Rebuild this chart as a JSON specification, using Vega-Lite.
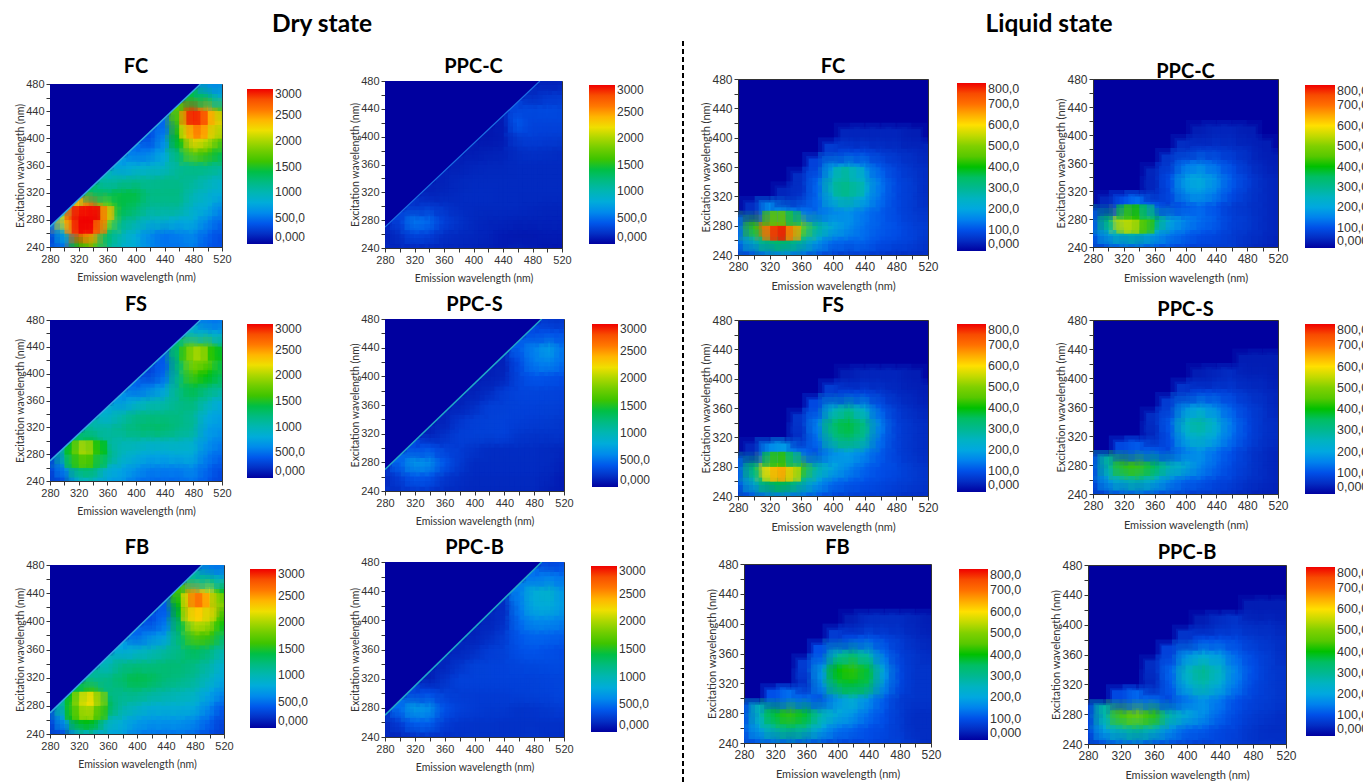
{"$schema":"https://vega.github.io/schema/vega-lite/v6.json","background":"white","padding":{"left":15,"top":12,"right":0,"bottom":0},
"config":{"view":{"stroke":"#333"},"range":{"ramp":["#00009f","#0050e8","#00a8e0","#00b890","#00c000","#80d000","#ffe000","#ff7000","#f00000"]},"axis":{"grid":false,"labelFlush":false,"labelFont":"Liberation Sans","labelFontSize":11,"labelColor":"#333","titleFont":"Lato","titleFontWeight":"normal","titleFontSize":10.5,"titleColor":"#333","domainColor":"#333","tickColor":"#333","tickSize":4},"axisX":{"titlePadding":8},"axisY":{"titlePadding":0},"title":{"font":"Lato","fontWeight":"bold","fontSize":20,"color":"black"},"legend":{"gradientStrokeWidth":0,"labelOffset":8,"labelFont":"Liberation Sans","labelColor":"#333","labelOverlap":false}},
"bounds":"flush","spacing":688,"resolve":{"scale":{"color":"independent"},"legend":{"color":"independent"}},"hconcat":[
{"bounds":"flush","spacing":633,"resolve":{"scale":{"color":"independent"},"legend":{"color":"independent"}},"hconcat":[
{"bounds":"flush","spacing":335,"resolve":{"scale":{"color":"independent"},"legend":{"color":"independent"}},"hconcat":[
{"bounds":"flush","spacing":524,"resolve":{"scale":{"color":"independent"},"legend":{"color":"independent"}},"vconcat":[
{"bounds":"flush","spacing":279,"resolve":{"scale":{"color":"independent"},"legend":{"color":"independent"}},"vconcat":[
{"bounds":"flush","spacing":42,"resolve":{"scale":{"color":"independent"},"legend":{"color":"independent"}},"vconcat":[
{"width":544,"height":1,"view":{"stroke":null},"title":{"text":"Dry state","fontSize":24.5,"offset":3},"data":{"values":[{"a":0}]},"mark":{"type":"rule","opacity":0},"encoding":{}},
{"width":172,"height":163,"view":{"fill":"#00009f"},"title":{"text":"FC","offset":1},
"encoding":{"x":{"field":"x","type":"quantitative","scale":{"domain":[280,520],"nice":false},"axis":{"values":[280,300,320,340,360,380,400,420,440,460,480,500,520],"labelExpr":"datum.value%40==0?datum.label:''","title":"Emission wavelength (nm)"}},"y":{"field":"y","type":"quantitative","scale":{"domain":[240,480],"nice":false},"axis":{"values":[240,260,280,300,320,340,360,380,400,420,440,460,480],"labelExpr":"datum.value%40==0?datum.label:''","title":"Excitation wavelength (nm)"}},"color":{"field":"v","type":"quantitative","scale":{"domain":[0,3000]},"legend":{"orient":"none","legendX":197,"legendY":5,"title":null,"gradientLength":155,"gradientThickness":26,"values":[0,500,1000,1500,2000,2500,3000],"labelExpr":"datum.value==0?'0,000':datum.value==500?'500,0':format(datum.value,'d')","labelFontSize":12,"encoding":{"labels":{"update":{"baseline":{"value":"middle"}}}}}}},
"data":{"values":[{"x":280,"y":240,"v":300},{"x":300,"y":240,"v":500},{"x":320,"y":240,"v":1500},{"x":340,"y":240,"v":1700},{"x":360,"y":240,"v":1200},{"x":380,"y":240,"v":900},{"x":400,"y":240,"v":800},{"x":420,"y":240,"v":600},{"x":440,"y":240,"v":500},{"x":460,"y":240,"v":500},{"x":480,"y":240,"v":550},{"x":500,"y":240,"v":400},{"x":520,"y":240,"v":350},
{"x":280,"y":260,"v":300},{"x":300,"y":260,"v":800},{"x":320,"y":260,"v":2800},{"x":340,"y":260,"v":2500},{"x":360,"y":260,"v":1300},{"x":380,"y":260,"v":1000},{"x":400,"y":260,"v":800},{"x":420,"y":260,"v":600},{"x":440,"y":260,"v":500},{"x":460,"y":260,"v":550},{"x":480,"y":260,"v":600},{"x":500,"y":260,"v":450},{"x":520,"y":260,"v":350},
{"x":280,"y":280,"v":500},{"x":300,"y":280,"v":2200},{"x":320,"y":280,"v":3000},{"x":340,"y":280,"v":3000},{"x":360,"y":280,"v":2000},{"x":380,"y":280,"v":1200},{"x":400,"y":280,"v":1050},{"x":420,"y":280,"v":900},{"x":440,"y":280,"v":900},{"x":460,"y":280,"v":800},{"x":480,"y":280,"v":800},{"x":500,"y":280,"v":600},{"x":520,"y":280,"v":450},
{"x":300,"y":300,"v":1000},{"x":320,"y":300,"v":2400},{"x":340,"y":300,"v":2700},{"x":360,"y":300,"v":1900},{"x":380,"y":300,"v":1400},{"x":400,"y":300,"v":1300},{"x":420,"y":300,"v":1100},{"x":440,"y":300,"v":1100},{"x":460,"y":300,"v":1100},{"x":480,"y":300,"v":900},{"x":500,"y":300,"v":800},{"x":520,"y":300,"v":600},
{"x":340,"y":320,"v":1300},{"x":360,"y":320,"v":1300},{"x":380,"y":320,"v":1400},{"x":400,"y":320,"v":1400},{"x":420,"y":320,"v":1200},{"x":440,"y":320,"v":1200},{"x":460,"y":320,"v":1200},{"x":480,"y":320,"v":1000},{"x":500,"y":320,"v":900},{"x":520,"y":320,"v":800},
{"x":360,"y":340,"v":1000},{"x":380,"y":340,"v":1050},{"x":400,"y":340,"v":1100},{"x":420,"y":340,"v":1100},{"x":440,"y":340,"v":1150},{"x":460,"y":340,"v":1150},{"x":480,"y":340,"v":1100},{"x":500,"y":340,"v":1000},{"x":520,"y":340,"v":900},
{"x":380,"y":360,"v":700},{"x":400,"y":360,"v":800},{"x":420,"y":360,"v":850},{"x":440,"y":360,"v":900},{"x":460,"y":360,"v":1100},{"x":480,"y":360,"v":1200},{"x":500,"y":360,"v":1200},{"x":520,"y":360,"v":1100},
{"x":400,"y":380,"v":500},{"x":420,"y":380,"v":550},{"x":440,"y":380,"v":750},{"x":460,"y":380,"v":1300},{"x":480,"y":380,"v":1800},{"x":500,"y":380,"v":1600},{"x":520,"y":380,"v":1400},
{"x":420,"y":400,"v":350},{"x":440,"y":400,"v":600},{"x":460,"y":400,"v":1500},{"x":480,"y":400,"v":2300},{"x":500,"y":400,"v":2100},{"x":520,"y":400,"v":1700},
{"x":440,"y":420,"v":450},{"x":460,"y":420,"v":1600},{"x":480,"y":420,"v":2700},{"x":500,"y":420,"v":2600},{"x":520,"y":420,"v":2000},
{"x":460,"y":440,"v":1700},{"x":480,"y":440,"v":2900},{"x":500,"y":440,"v":2500},{"x":520,"y":440,"v":1700},
{"x":480,"y":460,"v":1400},{"x":500,"y":460,"v":1300},{"x":520,"y":460,"v":900},
{"x":500,"y":480,"v":600},{"x":520,"y":480,"v":600}]},
"layer":[{"mark":{"type":"square","size":256,"clip":true,"opacity":1}},{"mark":{"type":"square","size":784,"clip":true,"opacity":0.3}},{"mark":{"type":"square","size":400,"clip":true,"opacity":0.4}},
{"data":{"values":[{"x":310,"y":270,"v":2500},{"x":320,"y":270,"v":3000},{"x":330,"y":270,"v":3000},{"x":340,"y":270,"v":3000},{"x":350,"y":270,"v":2600},
{"x":310,"y":290,"v":2800},{"x":320,"y":290,"v":3000},{"x":330,"y":290,"v":3000},{"x":340,"y":290,"v":3000},{"x":350,"y":290,"v":3000},{"x":360,"y":290,"v":2400},
{"x":470,"y":410,"v":2200},{"x":480,"y":410,"v":2500},{"x":490,"y":410,"v":2600},{"x":500,"y":410,"v":2400},{"x":510,"y":410,"v":2100},
{"x":470,"y":430,"v":2500},{"x":480,"y":430,"v":3000},{"x":490,"y":430,"v":2900},{"x":500,"y":430,"v":2700},{"x":510,"y":430,"v":2300}]},"mark":{"type":"square","size":196,"clip":true,"opacity":0.6}},
{"data":{"values":[{"x":280,"y":270},{"x":490,"y":480}]},"mark":{"type":"area","clip":true},"encoding":{"y2":{"datum":480},"color":{"value":"#00009f"}}},
{"data":{"values":[{"x":280,"y":270},{"x":490,"y":480}]},"mark":{"type":"line","strokeWidth":1.5,"clip":true},"encoding":{"color":{"value":"#30a8e0"}}}]}
]},
{"width":172,"height":161,"view":{"fill":"#00009f"},"title":{"text":"FS","offset":-1},
"encoding":{"x":{"field":"x","type":"quantitative","scale":{"domain":[280,520],"nice":false},"axis":{"values":[280,300,320,340,360,380,400,420,440,460,480,500,520],"labelExpr":"datum.value%40==0?datum.label:''","title":"Emission wavelength (nm)"}},"y":{"field":"y","type":"quantitative","scale":{"domain":[240,480],"nice":false},"axis":{"values":[240,260,280,300,320,340,360,380,400,420,440,460,480],"labelExpr":"datum.value%40==0?datum.label:''","title":"Excitation wavelength (nm)"}},"color":{"field":"v","type":"quantitative","scale":{"domain":[0,3000]},"legend":{"orient":"none","legendX":197,"legendY":4,"title":null,"gradientLength":154,"gradientThickness":26,"values":[0,500,1000,1500,2000,2500,3000],"labelExpr":"datum.value==0?'0,000':datum.value==500?'500,0':format(datum.value,'d')","labelFontSize":12,"encoding":{"labels":{"update":{"baseline":{"value":"middle"}}}}}}},
"data":{"values":[{"x":280,"y":240,"v":200},{"x":300,"y":240,"v":350},{"x":320,"y":240,"v":800},{"x":340,"y":240,"v":900},{"x":360,"y":240,"v":700},{"x":380,"y":240,"v":650},{"x":400,"y":240,"v":500},{"x":420,"y":240,"v":450},{"x":440,"y":240,"v":450},{"x":460,"y":240,"v":450},{"x":480,"y":240,"v":500},{"x":500,"y":240,"v":400},{"x":520,"y":240,"v":300},
{"x":280,"y":260,"v":300},{"x":300,"y":260,"v":600},{"x":320,"y":260,"v":1300},{"x":340,"y":260,"v":1300},{"x":360,"y":260,"v":900},{"x":380,"y":260,"v":750},{"x":400,"y":260,"v":650},{"x":420,"y":260,"v":550},{"x":440,"y":260,"v":550},{"x":460,"y":260,"v":550},{"x":480,"y":260,"v":600},{"x":500,"y":260,"v":450},{"x":520,"y":260,"v":350},
{"x":280,"y":280,"v":300},{"x":300,"y":280,"v":1100},{"x":320,"y":280,"v":1800},{"x":340,"y":280,"v":1800},{"x":360,"y":280,"v":1300},{"x":380,"y":280,"v":950},{"x":400,"y":280,"v":850},{"x":420,"y":280,"v":750},{"x":440,"y":280,"v":750},{"x":460,"y":280,"v":800},{"x":480,"y":280,"v":800},{"x":500,"y":280,"v":550},{"x":520,"y":280,"v":450},
{"x":320,"y":300,"v":1300},{"x":340,"y":300,"v":1400},{"x":360,"y":300,"v":1100},{"x":380,"y":300,"v":1000},{"x":400,"y":300,"v":1000},{"x":420,"y":300,"v":950},{"x":440,"y":300,"v":950},{"x":460,"y":300,"v":950},{"x":480,"y":300,"v":900},{"x":500,"y":300,"v":650},{"x":520,"y":300,"v":550},
{"x":340,"y":320,"v":1050},{"x":360,"y":320,"v":1050},{"x":380,"y":320,"v":1150},{"x":400,"y":320,"v":1250},{"x":420,"y":320,"v":1300},{"x":440,"y":320,"v":1300},{"x":460,"y":320,"v":1200},{"x":480,"y":320,"v":1100},{"x":500,"y":320,"v":700},{"x":520,"y":320,"v":650},
{"x":360,"y":340,"v":850},{"x":380,"y":340,"v":1000},{"x":400,"y":340,"v":1150},{"x":420,"y":340,"v":1200},{"x":440,"y":340,"v":1200},{"x":460,"y":340,"v":1200},{"x":480,"y":340,"v":1100},{"x":500,"y":340,"v":800},{"x":520,"y":340,"v":700},
{"x":380,"y":360,"v":650},{"x":400,"y":360,"v":800},{"x":420,"y":360,"v":950},{"x":440,"y":360,"v":1000},{"x":460,"y":360,"v":1150},{"x":480,"y":360,"v":1250},{"x":500,"y":360,"v":1000},{"x":520,"y":360,"v":800},
{"x":400,"y":380,"v":450},{"x":420,"y":380,"v":550},{"x":440,"y":380,"v":700},{"x":460,"y":380,"v":1200},{"x":480,"y":380,"v":1400},{"x":500,"y":380,"v":1250},{"x":520,"y":380,"v":1100},
{"x":420,"y":400,"v":300},{"x":440,"y":400,"v":450},{"x":460,"y":400,"v":1200},{"x":480,"y":400,"v":1650},{"x":500,"y":400,"v":1500},{"x":520,"y":400,"v":1350},
{"x":440,"y":420,"v":400},{"x":460,"y":420,"v":1300},{"x":480,"y":420,"v":1900},{"x":500,"y":420,"v":1800},{"x":520,"y":420,"v":1400},
{"x":460,"y":440,"v":1300},{"x":480,"y":440,"v":1800},{"x":500,"y":440,"v":1700},{"x":520,"y":440,"v":1300},
{"x":480,"y":460,"v":900},{"x":500,"y":460,"v":900},{"x":520,"y":460,"v":800},
{"x":500,"y":480,"v":500},{"x":520,"y":480,"v":500}]},
"layer":[{"mark":{"type":"square","size":256,"clip":true,"opacity":1}},{"mark":{"type":"square","size":784,"clip":true,"opacity":0.3}},{"mark":{"type":"square","size":400,"clip":true,"opacity":0.4}},
{"data":{"values":[{"x":310,"y":270,"v":1400},{"x":320,"y":270,"v":1600},{"x":330,"y":270,"v":1700},{"x":340,"y":270,"v":1600},{"x":350,"y":270,"v":1350},
{"x":310,"y":290,"v":1500},{"x":320,"y":290,"v":1900},{"x":330,"y":290,"v":2050},{"x":340,"y":290,"v":1900},{"x":350,"y":290,"v":1500},
{"x":470,"y":430,"v":1600},{"x":480,"y":430,"v":1950},{"x":490,"y":430,"v":2000},{"x":500,"y":430,"v":1850},{"x":510,"y":430,"v":1500}]},"mark":{"type":"square","size":196,"clip":true,"opacity":0.6}},
{"data":{"values":[{"x":280,"y":270},{"x":490,"y":480}]},"mark":{"type":"area","clip":true},"encoding":{"y2":{"datum":480},"color":{"value":"#00009f"}}},
{"data":{"values":[{"x":280,"y":270},{"x":490,"y":480}]},"mark":{"type":"line","strokeWidth":1.5,"clip":true},"encoding":{"color":{"value":"#30a8e0"}}}]}
]},
{"width":174,"height":169,"view":{"fill":"#00009f"},"title":{"text":"FB","offset":1},
"encoding":{"x":{"field":"x","type":"quantitative","scale":{"domain":[280,520],"nice":false},"axis":{"values":[280,300,320,340,360,380,400,420,440,460,480,500,520],"labelExpr":"datum.value%40==0?datum.label:''","title":"Emission wavelength (nm)"}},"y":{"field":"y","type":"quantitative","scale":{"domain":[240,480],"nice":false},"axis":{"values":[240,260,280,300,320,340,360,380,400,420,440,460,480],"labelExpr":"datum.value%40==0?datum.label:''","title":"Excitation wavelength (nm)"}},"color":{"field":"v","type":"quantitative","scale":{"domain":[0,3000]},"legend":{"orient":"none","legendX":200,"legendY":4,"title":null,"gradientLength":159,"gradientThickness":26,"values":[0,500,1000,1500,2000,2500,3000],"labelExpr":"datum.value==0?'0,000':datum.value==500?'500,0':format(datum.value,'d')","labelFontSize":12,"encoding":{"labels":{"update":{"baseline":{"value":"middle"}}}}}}},
"data":{"values":[{"x":280,"y":240,"v":200},{"x":300,"y":240,"v":350},{"x":320,"y":240,"v":800},{"x":340,"y":240,"v":850},{"x":360,"y":240,"v":750},{"x":380,"y":240,"v":700},{"x":400,"y":240,"v":550},{"x":420,"y":240,"v":500},{"x":440,"y":240,"v":500},{"x":460,"y":240,"v":500},{"x":480,"y":240,"v":450},{"x":500,"y":240,"v":350},{"x":520,"y":240,"v":250},
{"x":280,"y":260,"v":300},{"x":300,"y":260,"v":700},{"x":320,"y":260,"v":1500},{"x":340,"y":260,"v":1500},{"x":360,"y":260,"v":1000},{"x":380,"y":260,"v":850},{"x":400,"y":260,"v":700},{"x":420,"y":260,"v":650},{"x":440,"y":260,"v":650},{"x":460,"y":260,"v":650},{"x":480,"y":260,"v":600},{"x":500,"y":260,"v":450},{"x":520,"y":260,"v":300},
{"x":300,"y":280,"v":1100},{"x":320,"y":280,"v":2000},{"x":340,"y":280,"v":2100},{"x":360,"y":280,"v":1400},{"x":380,"y":280,"v":1050},{"x":400,"y":280,"v":950},{"x":420,"y":280,"v":850},{"x":440,"y":280,"v":850},{"x":460,"y":280,"v":850},{"x":480,"y":280,"v":800},{"x":500,"y":280,"v":600},{"x":520,"y":280,"v":400},
{"x":320,"y":300,"v":1400},{"x":340,"y":300,"v":1600},{"x":360,"y":300,"v":1200},{"x":380,"y":300,"v":1150},{"x":400,"y":300,"v":1200},{"x":420,"y":300,"v":1100},{"x":440,"y":300,"v":1050},{"x":460,"y":300,"v":1000},{"x":480,"y":300,"v":950},{"x":500,"y":300,"v":750},{"x":520,"y":300,"v":600},
{"x":340,"y":320,"v":1100},{"x":360,"y":320,"v":1150},{"x":380,"y":320,"v":1300},{"x":400,"y":320,"v":1400},{"x":420,"y":320,"v":1350},{"x":440,"y":320,"v":1250},{"x":460,"y":320,"v":1200},{"x":480,"y":320,"v":1100},{"x":500,"y":320,"v":950},{"x":520,"y":320,"v":750},
{"x":360,"y":340,"v":950},{"x":380,"y":340,"v":1150},{"x":400,"y":340,"v":1200},{"x":420,"y":340,"v":1200},{"x":440,"y":340,"v":1250},{"x":460,"y":340,"v":1250},{"x":480,"y":340,"v":1200},{"x":500,"y":340,"v":1050},{"x":520,"y":340,"v":850},
{"x":380,"y":360,"v":750},{"x":400,"y":360,"v":850},{"x":420,"y":360,"v":950},{"x":440,"y":360,"v":1050},{"x":460,"y":360,"v":1200},{"x":480,"y":360,"v":1350},{"x":500,"y":360,"v":1250},{"x":520,"y":360,"v":1000},
{"x":400,"y":380,"v":450},{"x":420,"y":380,"v":600},{"x":440,"y":380,"v":700},{"x":460,"y":380,"v":1300},{"x":480,"y":380,"v":1700},{"x":500,"y":380,"v":1600},{"x":520,"y":380,"v":1300},
{"x":420,"y":400,"v":350},{"x":440,"y":400,"v":500},{"x":460,"y":400,"v":1400},{"x":480,"y":400,"v":2100},{"x":500,"y":400,"v":2000},{"x":520,"y":400,"v":1500},
{"x":440,"y":420,"v":400},{"x":460,"y":420,"v":1500},{"x":480,"y":420,"v":2500},{"x":500,"y":420,"v":2400},{"x":520,"y":420,"v":1700},
{"x":460,"y":440,"v":1600},{"x":480,"y":440,"v":2500},{"x":500,"y":440,"v":2200},{"x":520,"y":440,"v":1500},
{"x":480,"y":460,"v":1100},{"x":500,"y":460,"v":1100},{"x":520,"y":460,"v":900},
{"x":500,"y":480,"v":500},{"x":520,"y":480,"v":500}]},
"layer":[{"mark":{"type":"square","size":256,"clip":true,"opacity":1}},{"mark":{"type":"square","size":784,"clip":true,"opacity":0.3}},{"mark":{"type":"square","size":400,"clip":true,"opacity":0.4}},
{"data":{"values":[{"x":310,"y":270,"v":1500},{"x":320,"y":270,"v":1800},{"x":330,"y":270,"v":2000},{"x":340,"y":270,"v":1950},{"x":350,"y":270,"v":1600},
{"x":310,"y":290,"v":1500},{"x":320,"y":290,"v":2000},{"x":330,"y":290,"v":2200},{"x":340,"y":290,"v":2250},{"x":350,"y":290,"v":1900},
{"x":470,"y":410,"v":2100},{"x":480,"y":410,"v":2300},{"x":490,"y":410,"v":2300},{"x":500,"y":410,"v":2100},
{"x":470,"y":430,"v":2200},{"x":480,"y":430,"v":2650},{"x":490,"y":430,"v":2650},{"x":500,"y":430,"v":2400},{"x":510,"y":430,"v":1950}]},"mark":{"type":"square","size":196,"clip":true,"opacity":0.6}},
{"data":{"values":[{"x":280,"y":270},{"x":490,"y":480}]},"mark":{"type":"area","clip":true},"encoding":{"y2":{"datum":480},"color":{"value":"#00009f"}}},
{"data":{"values":[{"x":280,"y":270},{"x":490,"y":480}]},"mark":{"type":"line","strokeWidth":1.5,"clip":true},"encoding":{"color":{"value":"#30a8e0"}}}]}
]},
{"bounds":"flush","spacing":521,"resolve":{"scale":{"color":"independent"},"legend":{"color":"independent"}},"vconcat":[
{"bounds":"flush","spacing":278,"resolve":{"scale":{"color":"independent"},"legend":{"color":"independent"}},"vconcat":[
{"bounds":"flush","spacing":39,"resolve":{"scale":{"color":"independent"},"legend":{"color":"independent"}},"vconcat":[
{"width":1,"height":1,"view":{"stroke":null},"data":{"values":[{"a":0}]},"mark":{"type":"rule","opacity":0},"encoding":{}},
{"width":177,"height":167,"view":{"fill":"#00009f"},"title":{"text":"PPC-C","offset":-2},
"encoding":{"x":{"field":"x","type":"quantitative","scale":{"domain":[280,520],"nice":false},"axis":{"values":[280,300,320,340,360,380,400,420,440,460,480,500,520],"labelExpr":"datum.value%40==0?datum.label:''","title":"Emission wavelength (nm)"}},"y":{"field":"y","type":"quantitative","scale":{"domain":[240,480],"nice":false},"axis":{"values":[240,260,280,300,320,340,360,380,400,420,440,460,480],"labelExpr":"datum.value%40==0?datum.label:''","title":"Excitation wavelength (nm)"}},"color":{"field":"v","type":"quantitative","scale":{"domain":[0,3000]},"legend":{"orient":"none","legendX":204,"legendY":4,"title":null,"gradientLength":159,"gradientThickness":26,"values":[0,500,1000,1500,2000,2500,3000],"labelExpr":"datum.value==0?'0,000':datum.value==500?'500,0':format(datum.value,'d')","labelFontSize":12,"encoding":{"labels":{"update":{"baseline":{"value":"middle"}}}}}}},
"data":{"values":[{"x":280,"y":240,"v":150},{"x":300,"y":240,"v":150},{"x":320,"y":240,"v":150},{"x":340,"y":240,"v":150},{"x":360,"y":240,"v":150},{"x":380,"y":240,"v":150},{"x":400,"y":240,"v":130},{"x":420,"y":240,"v":120},{"x":440,"y":240,"v":100},{"x":460,"y":240,"v":120},{"x":480,"y":240,"v":100},{"x":500,"y":240,"v":80},{"x":520,"y":240,"v":80},
{"x":280,"y":260,"v":100},{"x":300,"y":260,"v":200},{"x":320,"y":260,"v":330},{"x":340,"y":260,"v":300},{"x":360,"y":260,"v":200},{"x":380,"y":260,"v":170},{"x":400,"y":260,"v":160},{"x":420,"y":260,"v":140},{"x":440,"y":260,"v":100},{"x":460,"y":260,"v":90},{"x":480,"y":260,"v":90},{"x":500,"y":260,"v":100},{"x":520,"y":260,"v":100},
{"x":300,"y":280,"v":300},{"x":320,"y":280,"v":520},{"x":340,"y":280,"v":470},{"x":360,"y":280,"v":300},{"x":380,"y":280,"v":220},{"x":400,"y":280,"v":170},{"x":420,"y":280,"v":150},{"x":440,"y":280,"v":150},{"x":460,"y":280,"v":130},{"x":480,"y":280,"v":130},{"x":500,"y":280,"v":130},{"x":520,"y":280,"v":130},
{"x":320,"y":300,"v":230},{"x":340,"y":300,"v":260},{"x":360,"y":300,"v":220},{"x":380,"y":300,"v":180},{"x":400,"y":300,"v":170},{"x":420,"y":300,"v":170},{"x":440,"y":300,"v":170},{"x":460,"y":300,"v":170},{"x":480,"y":300,"v":160},{"x":500,"y":300,"v":150},{"x":520,"y":300,"v":150},
{"x":340,"y":320,"v":130},{"x":360,"y":320,"v":150},{"x":380,"y":320,"v":170},{"x":400,"y":320,"v":180},{"x":420,"y":320,"v":180},{"x":440,"y":320,"v":170},{"x":460,"y":320,"v":170},{"x":480,"y":320,"v":170},{"x":500,"y":320,"v":170},{"x":520,"y":320,"v":170},
{"x":360,"y":340,"v":130},{"x":380,"y":340,"v":160},{"x":400,"y":340,"v":170},{"x":420,"y":340,"v":170},{"x":440,"y":340,"v":170},{"x":460,"y":340,"v":170},{"x":480,"y":340,"v":170},{"x":500,"y":340,"v":170},{"x":520,"y":340,"v":170},
{"x":380,"y":360,"v":120},{"x":400,"y":360,"v":150},{"x":420,"y":360,"v":160},{"x":440,"y":360,"v":160},{"x":460,"y":360,"v":170},{"x":480,"y":360,"v":170},{"x":500,"y":360,"v":170},{"x":520,"y":360,"v":170},
{"x":400,"y":380,"v":100},{"x":420,"y":380,"v":120},{"x":440,"y":380,"v":130},{"x":460,"y":380,"v":190},{"x":480,"y":380,"v":210},{"x":500,"y":380,"v":200},{"x":520,"y":380,"v":190},
{"x":420,"y":400,"v":80},{"x":440,"y":400,"v":100},{"x":460,"y":400,"v":260},{"x":480,"y":400,"v":280},{"x":500,"y":400,"v":270},{"x":520,"y":400,"v":260},
{"x":440,"y":420,"v":100},{"x":460,"y":420,"v":400},{"x":480,"y":420,"v":310},{"x":500,"y":420,"v":310},{"x":520,"y":420,"v":310},
{"x":460,"y":440,"v":320},{"x":480,"y":440,"v":330},{"x":500,"y":440,"v":340},{"x":520,"y":440,"v":330},
{"x":480,"y":460,"v":170},{"x":500,"y":460,"v":230},{"x":520,"y":460,"v":250},
{"x":500,"y":480,"v":120},{"x":520,"y":480,"v":130}]},
"layer":[{"mark":{"type":"square","size":256,"clip":true,"opacity":1}},{"mark":{"type":"square","size":784,"clip":true,"opacity":0.3}},{"mark":{"type":"square","size":400,"clip":true,"opacity":0.4}},
{"data":{"values":[{"x":490,"y":480},{"x":280,"y":270}]},"mark":{"type":"area","clip":true},"encoding":{"y2":{"datum":480},"color":{"value":"#00009f"}}},
{"data":{"values":[{"x":280,"y":270},{"x":490,"y":480}]},"mark":{"type":"line","strokeWidth":1.2,"clip":true},"encoding":{"color":{"value":"#1c70e4"}}}]}
]},
{"width":179,"height":172,"view":{"fill":"#00009f"},"title":{"text":"PPC-S","offset":-2},
"encoding":{"x":{"field":"x","type":"quantitative","scale":{"domain":[280,520],"nice":false},"axis":{"values":[280,300,320,340,360,380,400,420,440,460,480,500,520],"labelExpr":"datum.value%40==0?datum.label:''","title":"Emission wavelength (nm)"}},"y":{"field":"y","type":"quantitative","scale":{"domain":[240,480],"nice":false},"axis":{"values":[240,260,280,300,320,340,360,380,400,420,440,460,480],"labelExpr":"datum.value%40==0?datum.label:''","title":"Excitation wavelength (nm)"}},"color":{"field":"v","type":"quantitative","scale":{"domain":[0,3000]},"legend":{"orient":"none","legendX":207,"legendY":5,"title":null,"gradientLength":163,"gradientThickness":26,"values":[0,500,1000,1500,2000,2500,3000],"labelExpr":"datum.value==0?'0,000':datum.value==500?'500,0':format(datum.value,'d')","labelFontSize":12,"encoding":{"labels":{"update":{"baseline":{"value":"middle"}}}}}}},
"data":{"values":[{"x":280,"y":240,"v":200},{"x":300,"y":240,"v":200},{"x":320,"y":240,"v":230},{"x":340,"y":240,"v":230},{"x":360,"y":240,"v":180},{"x":380,"y":240,"v":170},{"x":400,"y":240,"v":160},{"x":420,"y":240,"v":160},{"x":440,"y":240,"v":160},{"x":460,"y":240,"v":160},{"x":480,"y":240,"v":160},{"x":500,"y":240,"v":120},{"x":520,"y":240,"v":100},
{"x":280,"y":260,"v":150},{"x":300,"y":260,"v":280},{"x":320,"y":260,"v":400},{"x":340,"y":260,"v":380},{"x":360,"y":260,"v":250},{"x":380,"y":260,"v":200},{"x":400,"y":260,"v":170},{"x":420,"y":260,"v":170},{"x":440,"y":260,"v":170},{"x":460,"y":260,"v":170},{"x":480,"y":260,"v":170},{"x":500,"y":260,"v":150},{"x":520,"y":260,"v":100},
{"x":300,"y":280,"v":450},{"x":320,"y":280,"v":650},{"x":340,"y":280,"v":620},{"x":360,"y":280,"v":400},{"x":380,"y":280,"v":260},{"x":400,"y":280,"v":180},{"x":420,"y":280,"v":180},{"x":440,"y":280,"v":180},{"x":460,"y":280,"v":180},{"x":480,"y":280,"v":180},{"x":500,"y":280,"v":170},{"x":520,"y":280,"v":130},
{"x":320,"y":300,"v":350},{"x":340,"y":300,"v":380},{"x":360,"y":300,"v":300},{"x":380,"y":300,"v":270},{"x":400,"y":300,"v":220},{"x":420,"y":300,"v":190},{"x":440,"y":300,"v":190},{"x":460,"y":300,"v":190},{"x":480,"y":300,"v":190},{"x":500,"y":300,"v":170},{"x":520,"y":300,"v":160},
{"x":340,"y":320,"v":130},{"x":360,"y":320,"v":200},{"x":380,"y":320,"v":280},{"x":400,"y":320,"v":290},{"x":420,"y":320,"v":290},{"x":440,"y":320,"v":300},{"x":460,"y":320,"v":240},{"x":480,"y":320,"v":220},{"x":500,"y":320,"v":220},{"x":520,"y":320,"v":220},
{"x":360,"y":340,"v":130},{"x":380,"y":340,"v":230},{"x":400,"y":340,"v":280},{"x":420,"y":340,"v":290},{"x":440,"y":340,"v":300},{"x":460,"y":340,"v":280},{"x":480,"y":340,"v":270},{"x":500,"y":340,"v":260},{"x":520,"y":340,"v":240},
{"x":380,"y":360,"v":130},{"x":400,"y":360,"v":190},{"x":420,"y":360,"v":280},{"x":440,"y":360,"v":290},{"x":460,"y":360,"v":300},{"x":480,"y":360,"v":300},{"x":500,"y":360,"v":290},{"x":520,"y":360,"v":280},
{"x":400,"y":380,"v":120},{"x":420,"y":380,"v":170},{"x":440,"y":380,"v":270},{"x":460,"y":380,"v":310},{"x":480,"y":380,"v":320},{"x":500,"y":380,"v":310},{"x":520,"y":380,"v":300},
{"x":420,"y":400,"v":120},{"x":440,"y":400,"v":150},{"x":460,"y":400,"v":320},{"x":480,"y":400,"v":390},{"x":500,"y":400,"v":380},{"x":520,"y":400,"v":360},
{"x":440,"y":420,"v":130},{"x":460,"y":420,"v":350},{"x":480,"y":420,"v":530},{"x":500,"y":420,"v":580},{"x":520,"y":420,"v":480},
{"x":460,"y":440,"v":420},{"x":480,"y":440,"v":560},{"x":500,"y":440,"v":680},{"x":520,"y":440,"v":500},
{"x":480,"y":460,"v":350},{"x":500,"y":460,"v":380},{"x":520,"y":460,"v":370},
{"x":500,"y":480,"v":220},{"x":520,"y":480,"v":220}]},
"layer":[{"mark":{"type":"square","size":256,"clip":true,"opacity":1}},{"mark":{"type":"square","size":784,"clip":true,"opacity":0.3}},{"mark":{"type":"square","size":400,"clip":true,"opacity":0.4}},
{"data":{"values":[{"x":280,"y":270},{"x":490,"y":480}]},"mark":{"type":"area","clip":true},"encoding":{"y2":{"datum":480},"color":{"value":"#00009f"}}},
{"data":{"values":[{"x":280,"y":270},{"x":490,"y":480}]},"mark":{"type":"line","strokeWidth":1.5,"clip":true},"encoding":{"color":{"value":"#20a8c8"}}}]}
]},
{"width":179,"height":175,"view":{"fill":"#00009f"},"title":{"text":"PPC-B","offset":-2},
"encoding":{"x":{"field":"x","type":"quantitative","scale":{"domain":[280,520],"nice":false},"axis":{"values":[280,300,320,340,360,380,400,420,440,460,480,500,520],"labelExpr":"datum.value%40==0?datum.label:''","title":"Emission wavelength (nm)"}},"y":{"field":"y","type":"quantitative","scale":{"domain":[240,480],"nice":false},"axis":{"values":[240,260,280,300,320,340,360,380,400,420,440,460,480],"labelExpr":"datum.value%40==0?datum.label:''","title":"Excitation wavelength (nm)"}},"color":{"field":"v","type":"quantitative","scale":{"domain":[0,3000]},"legend":{"orient":"none","legendX":206,"legendY":4,"title":null,"gradientLength":166,"gradientThickness":26,"values":[0,500,1000,1500,2000,2500,3000],"labelExpr":"datum.value==0?'0,000':datum.value==500?'500,0':format(datum.value,'d')","labelFontSize":12,"encoding":{"labels":{"update":{"baseline":{"value":"middle"}}}}}}},
"data":{"values":[{"x":280,"y":240,"v":150},{"x":300,"y":240,"v":130},{"x":320,"y":240,"v":180},{"x":340,"y":240,"v":200},{"x":360,"y":240,"v":200},{"x":380,"y":240,"v":210},{"x":400,"y":240,"v":220},{"x":420,"y":240,"v":210},{"x":440,"y":240,"v":210},{"x":460,"y":240,"v":210},{"x":480,"y":240,"v":220},{"x":500,"y":240,"v":200},{"x":520,"y":240,"v":200},
{"x":280,"y":260,"v":150},{"x":300,"y":260,"v":280},{"x":320,"y":260,"v":430},{"x":340,"y":260,"v":430},{"x":360,"y":260,"v":280},{"x":380,"y":260,"v":230},{"x":400,"y":260,"v":220},{"x":420,"y":260,"v":220},{"x":440,"y":260,"v":210},{"x":460,"y":260,"v":210},{"x":480,"y":260,"v":210},{"x":500,"y":260,"v":210},{"x":520,"y":260,"v":210},
{"x":300,"y":280,"v":480},{"x":320,"y":280,"v":680},{"x":340,"y":280,"v":630},{"x":360,"y":280,"v":380},{"x":380,"y":280,"v":300},{"x":400,"y":280,"v":270},{"x":420,"y":280,"v":250},{"x":440,"y":280,"v":250},{"x":460,"y":280,"v":220},{"x":480,"y":280,"v":230},{"x":500,"y":280,"v":250},{"x":520,"y":280,"v":270},
{"x":320,"y":300,"v":320},{"x":340,"y":300,"v":360},{"x":360,"y":300,"v":290},{"x":380,"y":300,"v":270},{"x":400,"y":300,"v":270},{"x":420,"y":300,"v":270},{"x":440,"y":300,"v":270},{"x":460,"y":300,"v":280},{"x":480,"y":300,"v":290},{"x":500,"y":300,"v":300},{"x":520,"y":300,"v":320},
{"x":340,"y":320,"v":120},{"x":360,"y":320,"v":210},{"x":380,"y":320,"v":300},{"x":400,"y":320,"v":300},{"x":420,"y":320,"v":300},{"x":440,"y":320,"v":300},{"x":460,"y":320,"v":300},{"x":480,"y":320,"v":300},{"x":500,"y":320,"v":310},{"x":520,"y":320,"v":320},
{"x":360,"y":340,"v":150},{"x":380,"y":340,"v":220},{"x":400,"y":340,"v":290},{"x":420,"y":340,"v":300},{"x":440,"y":340,"v":300},{"x":460,"y":340,"v":320},{"x":480,"y":340,"v":330},{"x":500,"y":340,"v":340},{"x":520,"y":340,"v":340},
{"x":380,"y":360,"v":150},{"x":400,"y":360,"v":190},{"x":420,"y":360,"v":270},{"x":440,"y":360,"v":290},{"x":460,"y":360,"v":370},{"x":480,"y":360,"v":390},{"x":500,"y":360,"v":370},{"x":520,"y":360,"v":350},
{"x":400,"y":380,"v":130},{"x":420,"y":380,"v":190},{"x":440,"y":380,"v":260},{"x":460,"y":380,"v":400},{"x":480,"y":380,"v":450},{"x":500,"y":380,"v":440},{"x":520,"y":380,"v":420},
{"x":420,"y":400,"v":150},{"x":440,"y":400,"v":200},{"x":460,"y":400,"v":470},{"x":480,"y":400,"v":600},{"x":500,"y":400,"v":600},{"x":520,"y":400,"v":550},
{"x":440,"y":420,"v":180},{"x":460,"y":420,"v":530},{"x":480,"y":420,"v":780},{"x":500,"y":420,"v":820},{"x":520,"y":420,"v":680},
{"x":460,"y":440,"v":550},{"x":480,"y":440,"v":820},{"x":500,"y":440,"v":880},{"x":520,"y":440,"v":650},
{"x":480,"y":460,"v":500},{"x":500,"y":460,"v":550},{"x":520,"y":460,"v":500},
{"x":500,"y":480,"v":300},{"x":520,"y":480,"v":350}]},
"layer":[{"mark":{"type":"square","size":256,"clip":true,"opacity":1}},{"mark":{"type":"square","size":784,"clip":true,"opacity":0.3}},{"mark":{"type":"square","size":400,"clip":true,"opacity":0.4}},
{"data":{"values":[{"x":280,"y":270},{"x":490,"y":480}]},"mark":{"type":"area","clip":true},"encoding":{"y2":{"datum":480},"color":{"value":"#00009f"}}},
{"data":{"values":[{"x":280,"y":270},{"x":490,"y":480}]},"mark":{"type":"line","strokeWidth":1.5,"clip":true},"encoding":{"color":{"value":"#20a8c8"}}}]}
]}
]},
{"width":1,"height":741,"view":{"stroke":null},"data":{"values":[{"a":0}]},"mark":{"type":"rule","strokeDash":[5,3],"strokeWidth":2,"color":"black"},"encoding":{"x":{"datum":0,"axis":null}}}
]},
{"bounds":"flush","spacing":350,"resolve":{"scale":{"color":"independent"},"legend":{"color":"independent"}},"hconcat":[
{"bounds":"flush","spacing":523,"resolve":{"scale":{"color":"independent"},"legend":{"color":"independent"}},"vconcat":[
{"bounds":"flush","spacing":279,"resolve":{"scale":{"color":"independent"},"legend":{"color":"independent"}},"vconcat":[
{"bounds":"flush","spacing":37,"resolve":{"scale":{"color":"independent"},"legend":{"color":"independent"}},"vconcat":[
{"width":622,"height":1,"view":{"stroke":null},"title":{"text":"Liquid state","fontSize":24.5,"offset":3},"data":{"values":[{"a":0}]},"mark":{"type":"rule","opacity":0},"encoding":{}},
{"width":190,"height":176,"view":{"fill":"#00009f"},"title":{"text":"FC","offset":-4},
"encoding":{"x":{"field":"x","type":"quantitative","scale":{"domain":[280,520],"nice":false},"axis":{"labelFontSize":12,"titleFontSize":11,"values":[280,300,320,340,360,380,400,420,440,460,480,500,520],"labelExpr":"datum.value%40==0?datum.label:''","title":"Emission wavelength (nm)"}},"y":{"field":"y","type":"quantitative","scale":{"domain":[240,480],"nice":false},"axis":{"labelFontSize":12,"titleFontSize":11,"values":[240,260,280,300,320,340,360,380,400,420,440,460,480],"labelExpr":"datum.value%40==0?datum.label:''","title":"Excitation wavelength (nm)"}},"color":{"field":"v","type":"quantitative","scale":{"domain":[0,800]},"legend":{"orient":"none","legendX":219,"legendY":4,"title":null,"gradientLength":168,"gradientThickness":29,"values":[0,100,200,300,400,500,600,700,800],"labelExpr":"datum.value==0?'0,000':format(datum.value,'d')+',0'","labelFontSize":12.5,"encoding":{"labels":{"update":{"baseline":{"value":"middle"}}}}}}},
"data":{"values":[{"x":280,"y":240,"v":60},{"x":300,"y":240,"v":90},{"x":320,"y":240,"v":130},{"x":340,"y":240,"v":150},{"x":360,"y":240,"v":120},{"x":380,"y":240,"v":90},{"x":400,"y":240,"v":70},{"x":420,"y":240,"v":60},{"x":440,"y":240,"v":70},{"x":460,"y":240,"v":60},{"x":480,"y":240,"v":50},{"x":500,"y":240,"v":50},{"x":520,"y":240,"v":50},
{"x":280,"y":260,"v":130},{"x":300,"y":260,"v":260},{"x":320,"y":260,"v":350},{"x":340,"y":260,"v":360},{"x":360,"y":260,"v":300},{"x":380,"y":260,"v":190},{"x":400,"y":260,"v":130},{"x":420,"y":260,"v":120},{"x":440,"y":260,"v":120},{"x":460,"y":260,"v":100},{"x":480,"y":260,"v":90},{"x":500,"y":260,"v":80},{"x":520,"y":260,"v":60},
{"x":280,"y":280,"v":120},{"x":300,"y":280,"v":420},{"x":320,"y":280,"v":720},{"x":340,"y":280,"v":760},{"x":360,"y":280,"v":500},{"x":380,"y":280,"v":300},{"x":400,"y":280,"v":220},{"x":420,"y":280,"v":170},{"x":440,"y":280,"v":130},{"x":460,"y":280,"v":110},{"x":480,"y":280,"v":100},{"x":500,"y":280,"v":80},{"x":520,"y":280,"v":70},
{"x":300,"y":300,"v":50},{"x":320,"y":300,"v":160},{"x":340,"y":300,"v":170},{"x":360,"y":300,"v":140},{"x":380,"y":300,"v":120},{"x":400,"y":300,"v":150},{"x":420,"y":300,"v":170},{"x":440,"y":300,"v":140},{"x":460,"y":300,"v":110},{"x":480,"y":300,"v":90},{"x":500,"y":300,"v":70},{"x":520,"y":300,"v":60},
{"x":340,"y":320,"v":40},{"x":360,"y":320,"v":60},{"x":380,"y":320,"v":120},{"x":400,"y":320,"v":240},{"x":420,"y":320,"v":280},{"x":440,"y":320,"v":210},{"x":460,"y":320,"v":130},{"x":480,"y":320,"v":90},{"x":500,"y":320,"v":70},{"x":520,"y":320,"v":50},
{"x":360,"y":340,"v":50},{"x":380,"y":340,"v":120},{"x":400,"y":340,"v":270},{"x":420,"y":340,"v":310},{"x":440,"y":340,"v":240},{"x":460,"y":340,"v":140},{"x":480,"y":340,"v":90},{"x":500,"y":340,"v":70},{"x":520,"y":340,"v":50},
{"x":380,"y":360,"v":80},{"x":400,"y":360,"v":190},{"x":420,"y":360,"v":220},{"x":440,"y":360,"v":170},{"x":460,"y":360,"v":110},{"x":480,"y":360,"v":80},{"x":500,"y":360,"v":60},{"x":520,"y":360,"v":50},
{"x":400,"y":380,"v":70},{"x":420,"y":380,"v":90},{"x":440,"y":380,"v":90},{"x":460,"y":380,"v":70},{"x":480,"y":380,"v":60},{"x":500,"y":380,"v":50},{"x":520,"y":380,"v":40},
{"x":420,"y":400,"v":40},{"x":440,"y":400,"v":40},{"x":460,"y":400,"v":40},{"x":480,"y":400,"v":40},{"x":500,"y":400,"v":30}]},
"layer":[{"mark":{"type":"square","size":289,"clip":true,"opacity":1}},{"mark":{"type":"square","size":900,"clip":true,"opacity":0.3}},{"mark":{"type":"square","size":484,"clip":true,"opacity":0.4}},
{"data":{"values":[{"x":320,"y":270,"v":700},{"x":330,"y":270,"v":790},{"x":340,"y":270,"v":790},{"x":350,"y":270,"v":660},
{"x":320,"y":290,"v":430},{"x":330,"y":290,"v":460},{"x":340,"y":290,"v":450},{"x":350,"y":290,"v":360},
{"x":410,"y":330,"v":300},{"x":420,"y":330,"v":310},{"x":430,"y":330,"v":280},
{"x":410,"y":350,"v":280},{"x":420,"y":350,"v":290},{"x":430,"y":350,"v":250}]},"mark":{"type":"square","size":225,"clip":true,"opacity":0.6}}]}
]},
{"width":190,"height":176,"view":{"fill":"#00009f"},"title":{"text":"FS","offset":-2},
"encoding":{"x":{"field":"x","type":"quantitative","scale":{"domain":[280,520],"nice":false},"axis":{"labelFontSize":12,"titleFontSize":11,"values":[280,300,320,340,360,380,400,420,440,460,480,500,520],"labelExpr":"datum.value%40==0?datum.label:''","title":"Emission wavelength (nm)"}},"y":{"field":"y","type":"quantitative","scale":{"domain":[240,480],"nice":false},"axis":{"labelFontSize":12,"titleFontSize":11,"values":[240,260,280,300,320,340,360,380,400,420,440,460,480],"labelExpr":"datum.value%40==0?datum.label:''","title":"Excitation wavelength (nm)"}},"color":{"field":"v","type":"quantitative","scale":{"domain":[0,800]},"legend":{"orient":"none","legendX":219,"legendY":4,"title":null,"gradientLength":168,"gradientThickness":29,"values":[0,100,200,300,400,500,600,700,800],"labelExpr":"datum.value==0?'0,000':format(datum.value,'d')+',0'","labelFontSize":12.5,"encoding":{"labels":{"update":{"baseline":{"value":"middle"}}}}}}},
"data":{"values":[{"x":280,"y":240,"v":50},{"x":300,"y":240,"v":100},{"x":320,"y":240,"v":130},{"x":340,"y":240,"v":140},{"x":360,"y":240,"v":120},{"x":380,"y":240,"v":100},{"x":400,"y":240,"v":80},{"x":420,"y":240,"v":70},{"x":440,"y":240,"v":70},{"x":460,"y":240,"v":70},{"x":480,"y":240,"v":60},{"x":500,"y":240,"v":50},{"x":520,"y":240,"v":50},
{"x":280,"y":260,"v":110},{"x":300,"y":260,"v":250},{"x":320,"y":260,"v":370},{"x":340,"y":260,"v":380},{"x":360,"y":260,"v":300},{"x":380,"y":260,"v":190},{"x":400,"y":260,"v":130},{"x":420,"y":260,"v":110},{"x":440,"y":260,"v":100},{"x":460,"y":260,"v":90},{"x":480,"y":260,"v":80},{"x":500,"y":260,"v":70},{"x":520,"y":260,"v":60},
{"x":280,"y":280,"v":110},{"x":300,"y":280,"v":350},{"x":320,"y":280,"v":620},{"x":340,"y":280,"v":640},{"x":360,"y":280,"v":440},{"x":380,"y":280,"v":280},{"x":400,"y":280,"v":210},{"x":420,"y":280,"v":160},{"x":440,"y":280,"v":120},{"x":460,"y":280,"v":100},{"x":480,"y":280,"v":90},{"x":500,"y":280,"v":70},{"x":520,"y":280,"v":60},
{"x":300,"y":300,"v":40},{"x":320,"y":300,"v":160},{"x":340,"y":300,"v":180},{"x":360,"y":300,"v":130},{"x":380,"y":300,"v":100},{"x":400,"y":300,"v":160},{"x":420,"y":300,"v":190},{"x":440,"y":300,"v":160},{"x":460,"y":300,"v":110},{"x":480,"y":300,"v":80},{"x":500,"y":300,"v":60},{"x":520,"y":300,"v":50},
{"x":360,"y":320,"v":50},{"x":380,"y":320,"v":130},{"x":400,"y":320,"v":300},{"x":420,"y":320,"v":350},{"x":440,"y":320,"v":290},{"x":460,"y":320,"v":130},{"x":480,"y":320,"v":80},{"x":500,"y":320,"v":60},{"x":520,"y":320,"v":50},
{"x":360,"y":340,"v":60},{"x":380,"y":340,"v":150},{"x":400,"y":340,"v":340},{"x":420,"y":340,"v":380},{"x":440,"y":340,"v":320},{"x":460,"y":340,"v":150},{"x":480,"y":340,"v":80},{"x":500,"y":340,"v":60},{"x":520,"y":340,"v":50},
{"x":380,"y":360,"v":90},{"x":400,"y":360,"v":230},{"x":420,"y":360,"v":290},{"x":440,"y":360,"v":220},{"x":460,"y":360,"v":110},{"x":480,"y":360,"v":70},{"x":500,"y":360,"v":50},{"x":520,"y":360,"v":40},
{"x":400,"y":380,"v":70},{"x":420,"y":380,"v":90},{"x":440,"y":380,"v":90},{"x":460,"y":380,"v":70},{"x":480,"y":380,"v":50},{"x":500,"y":380,"v":40},{"x":520,"y":380,"v":30},
{"x":420,"y":400,"v":30},{"x":440,"y":400,"v":40},{"x":460,"y":400,"v":40},{"x":480,"y":400,"v":40},{"x":500,"y":400,"v":30}]},
"layer":[{"mark":{"type":"square","size":289,"clip":true,"opacity":1}},{"mark":{"type":"square","size":900,"clip":true,"opacity":0.3}},{"mark":{"type":"square","size":484,"clip":true,"opacity":0.4}},
{"data":{"values":[{"x":320,"y":270,"v":590},{"x":330,"y":270,"v":650},{"x":340,"y":270,"v":650},{"x":350,"y":270,"v":570},
{"x":320,"y":290,"v":380},{"x":330,"y":290,"v":420},{"x":340,"y":290,"v":410},{"x":350,"y":290,"v":330}]},"mark":{"type":"square","size":225,"clip":true,"opacity":0.6}}]}
]},
{"bounds":"flush","spacing":0,"resolve":{"scale":{"color":"independent"},"legend":{"color":"independent"}},"hconcat":[
{"width":6,"height":1,"view":{"stroke":null},"data":{"values":[{"a":0}]},"mark":{"type":"rule","opacity":0},"encoding":{}},
{"width":187,"height":179,"view":{"fill":"#00009f"},"title":{"text":"FB","offset":0},
"encoding":{"x":{"field":"x","type":"quantitative","scale":{"domain":[280,520],"nice":false},"axis":{"labelFontSize":12,"titleFontSize":11,"values":[280,300,320,340,360,380,400,420,440,460,480,500,520],"labelExpr":"datum.value%40==0?datum.label:''","title":"Emission wavelength (nm)"}},"y":{"field":"y","type":"quantitative","scale":{"domain":[240,480],"nice":false},"axis":{"labelFontSize":12,"titleFontSize":11,"values":[240,260,280,300,320,340,360,380,400,420,440,460,480],"labelExpr":"datum.value%40==0?datum.label:''","title":"Excitation wavelength (nm)"}},"color":{"field":"v","type":"quantitative","scale":{"domain":[0,800]},"legend":{"orient":"none","legendX":215,"legendY":5,"title":null,"gradientLength":171,"gradientThickness":29,"values":[0,100,200,300,400,500,600,700,800],"labelExpr":"datum.value==0?'0,000':format(datum.value,'d')+',0'","labelFontSize":12.5,"encoding":{"labels":{"update":{"baseline":{"value":"middle"}}}}}}},
"data":{"values":[{"x":280,"y":240,"v":70},{"x":300,"y":240,"v":100},{"x":320,"y":240,"v":110},{"x":340,"y":240,"v":110},{"x":360,"y":240,"v":100},{"x":380,"y":240,"v":90},{"x":400,"y":240,"v":80},{"x":420,"y":240,"v":80},{"x":440,"y":240,"v":90},{"x":460,"y":240,"v":80},{"x":480,"y":240,"v":80},{"x":500,"y":240,"v":60},{"x":520,"y":240,"v":50},
{"x":280,"y":260,"v":110},{"x":300,"y":260,"v":200},{"x":320,"y":260,"v":290},{"x":340,"y":260,"v":330},{"x":360,"y":260,"v":290},{"x":380,"y":260,"v":200},{"x":400,"y":260,"v":140},{"x":420,"y":260,"v":120},{"x":440,"y":260,"v":100},{"x":460,"y":260,"v":90},{"x":480,"y":260,"v":70},{"x":500,"y":260,"v":50},{"x":520,"y":260,"v":50},
{"x":280,"y":280,"v":90},{"x":300,"y":280,"v":260},{"x":320,"y":280,"v":390},{"x":340,"y":280,"v":420},{"x":360,"y":280,"v":390},{"x":380,"y":280,"v":270},{"x":400,"y":280,"v":220},{"x":420,"y":280,"v":180},{"x":440,"y":280,"v":130},{"x":460,"y":280,"v":100},{"x":480,"y":280,"v":70},{"x":500,"y":280,"v":50},{"x":520,"y":280,"v":50},
{"x":320,"y":300,"v":100},{"x":340,"y":300,"v":130},{"x":360,"y":300,"v":120},{"x":380,"y":300,"v":100},{"x":400,"y":300,"v":170},{"x":420,"y":300,"v":230},{"x":440,"y":300,"v":170},{"x":460,"y":300,"v":110},{"x":480,"y":300,"v":70},{"x":500,"y":300,"v":60},{"x":520,"y":300,"v":60},
{"x":360,"y":320,"v":50},{"x":380,"y":320,"v":170},{"x":400,"y":320,"v":370},{"x":420,"y":320,"v":390},{"x":440,"y":320,"v":360},{"x":460,"y":320,"v":170},{"x":480,"y":320,"v":90},{"x":500,"y":320,"v":60},{"x":520,"y":320,"v":60},
{"x":360,"y":340,"v":70},{"x":380,"y":340,"v":180},{"x":400,"y":340,"v":400},{"x":420,"y":340,"v":420},{"x":440,"y":340,"v":380},{"x":460,"y":340,"v":190},{"x":480,"y":340,"v":90},{"x":500,"y":340,"v":60},{"x":520,"y":340,"v":60},
{"x":380,"y":360,"v":100},{"x":400,"y":360,"v":260},{"x":420,"y":360,"v":320},{"x":440,"y":360,"v":260},{"x":460,"y":360,"v":130},{"x":480,"y":360,"v":80},{"x":500,"y":360,"v":60},{"x":520,"y":360,"v":50},
{"x":400,"y":380,"v":70},{"x":420,"y":380,"v":100},{"x":440,"y":380,"v":110},{"x":460,"y":380,"v":90},{"x":480,"y":380,"v":70},{"x":500,"y":380,"v":50},{"x":520,"y":380,"v":40},
{"x":420,"y":400,"v":30},{"x":440,"y":400,"v":50},{"x":460,"y":400,"v":50},{"x":480,"y":400,"v":50},{"x":500,"y":400,"v":40},{"x":520,"y":400,"v":30}]},
"layer":[{"mark":{"type":"square","size":289,"clip":true,"opacity":1}},{"mark":{"type":"square","size":900,"clip":true,"opacity":0.3}},{"mark":{"type":"square","size":484,"clip":true,"opacity":0.4}}]}
]}
]},
{"bounds":"flush","spacing":524,"resolve":{"scale":{"color":"independent"},"legend":{"color":"independent"}},"vconcat":[
{"bounds":"flush","spacing":279,"resolve":{"scale":{"color":"independent"},"legend":{"color":"independent"}},"vconcat":[
{"bounds":"flush","spacing":37,"resolve":{"scale":{"color":"independent"},"legend":{"color":"independent"}},"vconcat":[
{"width":1,"height":1,"view":{"stroke":null},"data":{"values":[{"a":0}]},"mark":{"type":"rule","opacity":0},"encoding":{}},
{"bounds":"flush","spacing":0,"resolve":{"scale":{"color":"independent"},"legend":{"color":"independent"}},"hconcat":[
{"width":5,"height":1,"view":{"stroke":null},"data":{"values":[{"a":0}]},"mark":{"type":"rule","opacity":0},"encoding":{}},
{"width":185,"height":168,"view":{"fill":"#00009f"},"title":{"text":"PPC-C","offset":-9},
"encoding":{"x":{"field":"x","type":"quantitative","scale":{"domain":[280,520],"nice":false},"axis":{"labelFontSize":12,"titleFontSize":11,"values":[280,300,320,340,360,380,400,420,440,460,480,500,520],"labelExpr":"datum.value%40==0?datum.label:''","title":"Emission wavelength (nm)"}},"y":{"field":"y","type":"quantitative","scale":{"domain":[240,480],"nice":false},"axis":{"labelFontSize":12,"titleFontSize":11,"values":[240,260,280,300,320,340,360,380,400,420,440,460,480],"labelExpr":"datum.value%40==0?datum.label:''","title":"Excitation wavelength (nm)"}},"color":{"field":"v","type":"quantitative","scale":{"domain":[0,800]},"legend":{"orient":"none","legendX":212,"legendY":6,"title":null,"gradientLength":163,"gradientThickness":30,"values":[0,100,200,300,400,500,600,700,800],"labelExpr":"datum.value==0?'0,000':format(datum.value,'d')+',0'","labelFontSize":12.5,"encoding":{"labels":{"update":{"baseline":{"value":"middle"}}}}}}},
"data":{"values":[{"x":280,"y":240,"v":50},{"x":300,"y":240,"v":90},{"x":320,"y":240,"v":110},{"x":340,"y":240,"v":110},{"x":360,"y":240,"v":100},{"x":380,"y":240,"v":90},{"x":400,"y":240,"v":80},{"x":420,"y":240,"v":70},{"x":440,"y":240,"v":70},{"x":460,"y":240,"v":70},{"x":480,"y":240,"v":50},{"x":500,"y":240,"v":40},{"x":520,"y":240,"v":30},
{"x":280,"y":260,"v":110},{"x":300,"y":260,"v":220},{"x":320,"y":260,"v":270},{"x":340,"y":260,"v":280},{"x":360,"y":260,"v":210},{"x":380,"y":260,"v":150},{"x":400,"y":260,"v":120},{"x":420,"y":260,"v":100},{"x":440,"y":260,"v":90},{"x":460,"y":260,"v":70},{"x":480,"y":260,"v":60},{"x":500,"y":260,"v":50},{"x":520,"y":260,"v":40},
{"x":280,"y":280,"v":100},{"x":300,"y":280,"v":350},{"x":320,"y":280,"v":600},{"x":340,"y":280,"v":560},{"x":360,"y":280,"v":370},{"x":380,"y":280,"v":220},{"x":400,"y":280,"v":160},{"x":420,"y":280,"v":130},{"x":440,"y":280,"v":110},{"x":460,"y":280,"v":80},{"x":480,"y":280,"v":70},{"x":500,"y":280,"v":50},{"x":520,"y":280,"v":40},
{"x":300,"y":300,"v":40},{"x":320,"y":300,"v":100},{"x":340,"y":300,"v":130},{"x":360,"y":300,"v":110},{"x":380,"y":300,"v":80},{"x":400,"y":300,"v":100},{"x":420,"y":300,"v":120},{"x":440,"y":300,"v":100},{"x":460,"y":300,"v":70},{"x":480,"y":300,"v":60},{"x":500,"y":300,"v":50},{"x":520,"y":300,"v":40},
{"x":360,"y":320,"v":40},{"x":380,"y":320,"v":90},{"x":400,"y":320,"v":170},{"x":420,"y":320,"v":190},{"x":440,"y":320,"v":150},{"x":460,"y":320,"v":100},{"x":480,"y":320,"v":70},{"x":500,"y":320,"v":50},{"x":520,"y":320,"v":40},
{"x":360,"y":340,"v":40},{"x":380,"y":340,"v":100},{"x":400,"y":340,"v":190},{"x":420,"y":340,"v":215},{"x":440,"y":340,"v":170},{"x":460,"y":340,"v":110},{"x":480,"y":340,"v":80},{"x":500,"y":340,"v":50},{"x":520,"y":340,"v":40},
{"x":380,"y":360,"v":60},{"x":400,"y":360,"v":130},{"x":420,"y":360,"v":150},{"x":440,"y":360,"v":120},{"x":460,"y":360,"v":90},{"x":480,"y":360,"v":60},{"x":500,"y":360,"v":40},{"x":520,"y":360,"v":30},
{"x":400,"y":380,"v":50},{"x":420,"y":380,"v":70},{"x":440,"y":380,"v":70},{"x":460,"y":380,"v":60},{"x":480,"y":380,"v":50},{"x":500,"y":380,"v":30},
{"x":420,"y":400,"v":30},{"x":440,"y":400,"v":40},{"x":460,"y":400,"v":40},{"x":480,"y":400,"v":30}]},
"layer":[{"mark":{"type":"square","size":289,"clip":true,"opacity":1}},{"mark":{"type":"square","size":900,"clip":true,"opacity":0.3}},{"mark":{"type":"square","size":484,"clip":true,"opacity":0.4}},
{"data":{"values":[{"x":320,"y":270,"v":530},{"x":330,"y":270,"v":540},{"x":340,"y":270,"v":510},{"x":350,"y":270,"v":420},
{"x":320,"y":290,"v":380},{"x":330,"y":290,"v":420},{"x":340,"y":290,"v":400},{"x":350,"y":290,"v":320}]},"mark":{"type":"square","size":225,"clip":true,"opacity":0.6}}]}
]}
]},
{"bounds":"flush","spacing":0,"resolve":{"scale":{"color":"independent"},"legend":{"color":"independent"}},"hconcat":[
{"width":5,"height":1,"view":{"stroke":null},"data":{"values":[{"a":0}]},"mark":{"type":"rule","opacity":0},"encoding":{}},
{"width":185,"height":174,"view":{"fill":"#00009f"},"title":{"text":"PPC-S","offset":-6},
"encoding":{"x":{"field":"x","type":"quantitative","scale":{"domain":[280,520],"nice":false},"axis":{"labelFontSize":12,"titleFontSize":11,"values":[280,300,320,340,360,380,400,420,440,460,480,500,520],"labelExpr":"datum.value%40==0?datum.label:''","title":"Emission wavelength (nm)"}},"y":{"field":"y","type":"quantitative","scale":{"domain":[240,480],"nice":false},"axis":{"labelFontSize":12,"titleFontSize":11,"values":[240,260,280,300,320,340,360,380,400,420,440,460,480],"labelExpr":"datum.value%40==0?datum.label:''","title":"Excitation wavelength (nm)"}},"color":{"field":"v","type":"quantitative","scale":{"domain":[0,800]},"legend":{"orient":"none","legendX":212,"legendY":4,"title":null,"gradientLength":170,"gradientThickness":30,"values":[0,100,200,300,400,500,600,700,800],"labelExpr":"datum.value==0?'0,000':format(datum.value,'d')+',0'","labelFontSize":12.5,"encoding":{"labels":{"update":{"baseline":{"value":"middle"}}}}}}},
"data":{"values":[{"x":280,"y":240,"v":40},{"x":300,"y":240,"v":80},{"x":320,"y":240,"v":100},{"x":340,"y":240,"v":110},{"x":360,"y":240,"v":100},{"x":380,"y":240,"v":80},{"x":400,"y":240,"v":70},{"x":420,"y":240,"v":60},{"x":440,"y":240,"v":60},{"x":460,"y":240,"v":50},{"x":480,"y":240,"v":40},{"x":500,"y":240,"v":30},{"x":520,"y":240,"v":30},
{"x":280,"y":260,"v":90},{"x":300,"y":260,"v":190},{"x":320,"y":260,"v":260},{"x":340,"y":260,"v":280},{"x":360,"y":260,"v":230},{"x":380,"y":260,"v":160},{"x":400,"y":260,"v":120},{"x":420,"y":260,"v":110},{"x":440,"y":260,"v":90},{"x":460,"y":260,"v":80},{"x":480,"y":260,"v":60},{"x":500,"y":260,"v":50},{"x":520,"y":260,"v":40},
{"x":280,"y":280,"v":90},{"x":300,"y":280,"v":290},{"x":320,"y":280,"v":420},{"x":340,"y":280,"v":430},{"x":360,"y":280,"v":370},{"x":380,"y":280,"v":270},{"x":400,"y":280,"v":230},{"x":420,"y":280,"v":160},{"x":440,"y":280,"v":120},{"x":460,"y":280,"v":90},{"x":480,"y":280,"v":70},{"x":500,"y":280,"v":50},{"x":520,"y":280,"v":40},
{"x":320,"y":300,"v":90},{"x":340,"y":300,"v":110},{"x":360,"y":300,"v":110},{"x":380,"y":300,"v":90},{"x":400,"y":300,"v":140},{"x":420,"y":300,"v":170},{"x":440,"y":300,"v":130},{"x":460,"y":300,"v":100},{"x":480,"y":300,"v":70},{"x":500,"y":300,"v":50},{"x":520,"y":300,"v":40},
{"x":360,"y":320,"v":40},{"x":380,"y":320,"v":100},{"x":400,"y":320,"v":210},{"x":420,"y":320,"v":250},{"x":440,"y":320,"v":200},{"x":460,"y":320,"v":130},{"x":480,"y":320,"v":90},{"x":500,"y":320,"v":60},{"x":520,"y":320,"v":50},
{"x":360,"y":340,"v":50},{"x":380,"y":340,"v":110},{"x":400,"y":340,"v":250},{"x":420,"y":340,"v":290},{"x":440,"y":340,"v":230},{"x":460,"y":340,"v":140},{"x":480,"y":340,"v":90},{"x":500,"y":340,"v":60},{"x":520,"y":340,"v":50},
{"x":380,"y":360,"v":70},{"x":400,"y":360,"v":170},{"x":420,"y":360,"v":200},{"x":440,"y":360,"v":160},{"x":460,"y":360,"v":110},{"x":480,"y":360,"v":80},{"x":500,"y":360,"v":60},{"x":520,"y":360,"v":40},
{"x":400,"y":380,"v":60},{"x":420,"y":380,"v":90},{"x":440,"y":380,"v":90},{"x":460,"y":380,"v":80},{"x":480,"y":380,"v":60},{"x":500,"y":380,"v":50},{"x":520,"y":380,"v":40},
{"x":420,"y":400,"v":30},{"x":440,"y":400,"v":40},{"x":460,"y":400,"v":50},{"x":480,"y":400,"v":40},{"x":500,"y":400,"v":40},{"x":520,"y":400,"v":30},
{"x":480,"y":420,"v":30},{"x":500,"y":420,"v":30},{"x":520,"y":420,"v":30}]},
"layer":[{"mark":{"type":"square","size":289,"clip":true,"opacity":1}},{"mark":{"type":"square","size":900,"clip":true,"opacity":0.3}},{"mark":{"type":"square","size":484,"clip":true,"opacity":0.4}}]}
]}
]},
{"width":198,"height":179,"view":{"fill":"#00009f"},"title":{"text":"PPC-B","offset":-4},
"encoding":{"x":{"field":"x","type":"quantitative","scale":{"domain":[280,520],"nice":false},"axis":{"labelFontSize":12,"titleFontSize":11,"values":[280,300,320,340,360,380,400,420,440,460,480,500,520],"labelExpr":"datum.value%40==0?datum.label:''","title":"Emission wavelength (nm)"}},"y":{"field":"y","type":"quantitative","scale":{"domain":[240,480],"nice":false},"axis":{"labelFontSize":12,"titleFontSize":11,"values":[240,260,280,300,320,340,360,380,400,420,440,460,480],"labelExpr":"datum.value%40==0?datum.label:''","title":"Excitation wavelength (nm)"}},"color":{"field":"v","type":"quantitative","scale":{"domain":[0,800]},"legend":{"orient":"none","legendX":218,"legendY":2,"title":null,"gradientLength":169,"gradientThickness":29,"values":[0,100,200,300,400,500,600,700,800],"labelExpr":"datum.value==0?'0,000':format(datum.value,'d')+',0'","labelFontSize":12.5,"encoding":{"labels":{"update":{"baseline":{"value":"middle"}}}}}}},
"data":{"values":[{"x":280,"y":240,"v":50},{"x":300,"y":240,"v":90},{"x":320,"y":240,"v":110},{"x":340,"y":240,"v":120},{"x":360,"y":240,"v":100},{"x":380,"y":240,"v":90},{"x":400,"y":240,"v":80},{"x":420,"y":240,"v":70},{"x":440,"y":240,"v":80},{"x":460,"y":240,"v":70},{"x":480,"y":240,"v":60},{"x":500,"y":240,"v":60},{"x":520,"y":240,"v":60},
{"x":280,"y":260,"v":90},{"x":300,"y":260,"v":200},{"x":320,"y":260,"v":270},{"x":340,"y":260,"v":300},{"x":360,"y":260,"v":260},{"x":380,"y":260,"v":170},{"x":400,"y":260,"v":120},{"x":420,"y":260,"v":110},{"x":440,"y":260,"v":90},{"x":460,"y":260,"v":80},{"x":480,"y":260,"v":60},{"x":500,"y":260,"v":50},{"x":520,"y":260,"v":50},
{"x":280,"y":280,"v":80},{"x":300,"y":280,"v":280},{"x":320,"y":280,"v":440},{"x":340,"y":280,"v":480},{"x":360,"y":280,"v":420},{"x":380,"y":280,"v":280},{"x":400,"y":280,"v":220},{"x":420,"y":280,"v":170},{"x":440,"y":280,"v":120},{"x":460,"y":280,"v":90},{"x":480,"y":280,"v":70},{"x":500,"y":280,"v":60},{"x":520,"y":280,"v":50},
{"x":320,"y":300,"v":90},{"x":340,"y":300,"v":120},{"x":360,"y":300,"v":120},{"x":380,"y":300,"v":90},{"x":400,"y":300,"v":130},{"x":420,"y":300,"v":170},{"x":440,"y":300,"v":140},{"x":460,"y":300,"v":100},{"x":480,"y":300,"v":80},{"x":500,"y":300,"v":70},{"x":520,"y":300,"v":60},
{"x":360,"y":320,"v":40},{"x":380,"y":320,"v":110},{"x":400,"y":320,"v":220},{"x":420,"y":320,"v":270},{"x":440,"y":320,"v":220},{"x":460,"y":320,"v":140},{"x":480,"y":320,"v":90},{"x":500,"y":320,"v":70},{"x":520,"y":320,"v":60},
{"x":360,"y":340,"v":50},{"x":380,"y":340,"v":120},{"x":400,"y":340,"v":250},{"x":420,"y":340,"v":300},{"x":440,"y":340,"v":250},{"x":460,"y":340,"v":150},{"x":480,"y":340,"v":100},{"x":500,"y":340,"v":70},{"x":520,"y":340,"v":60},
{"x":380,"y":360,"v":80},{"x":400,"y":360,"v":170},{"x":420,"y":360,"v":210},{"x":440,"y":360,"v":180},{"x":460,"y":360,"v":120},{"x":480,"y":360,"v":90},{"x":500,"y":360,"v":70},{"x":520,"y":360,"v":50},
{"x":400,"y":380,"v":60},{"x":420,"y":380,"v":100},{"x":440,"y":380,"v":100},{"x":460,"y":380,"v":90},{"x":480,"y":380,"v":70},{"x":500,"y":380,"v":60},{"x":520,"y":380,"v":50},
{"x":420,"y":400,"v":30},{"x":440,"y":400,"v":50},{"x":460,"y":400,"v":60},{"x":480,"y":400,"v":50},{"x":500,"y":400,"v":50},{"x":520,"y":400,"v":40},
{"x":480,"y":420,"v":30},{"x":500,"y":420,"v":30},{"x":520,"y":420,"v":30}]},
"layer":[{"mark":{"type":"square","size":324,"clip":true,"opacity":1}},{"mark":{"type":"square","size":900,"clip":true,"opacity":0.3}},{"mark":{"type":"square","size":484,"clip":true,"opacity":0.4}}]}
]}
]}
]}
